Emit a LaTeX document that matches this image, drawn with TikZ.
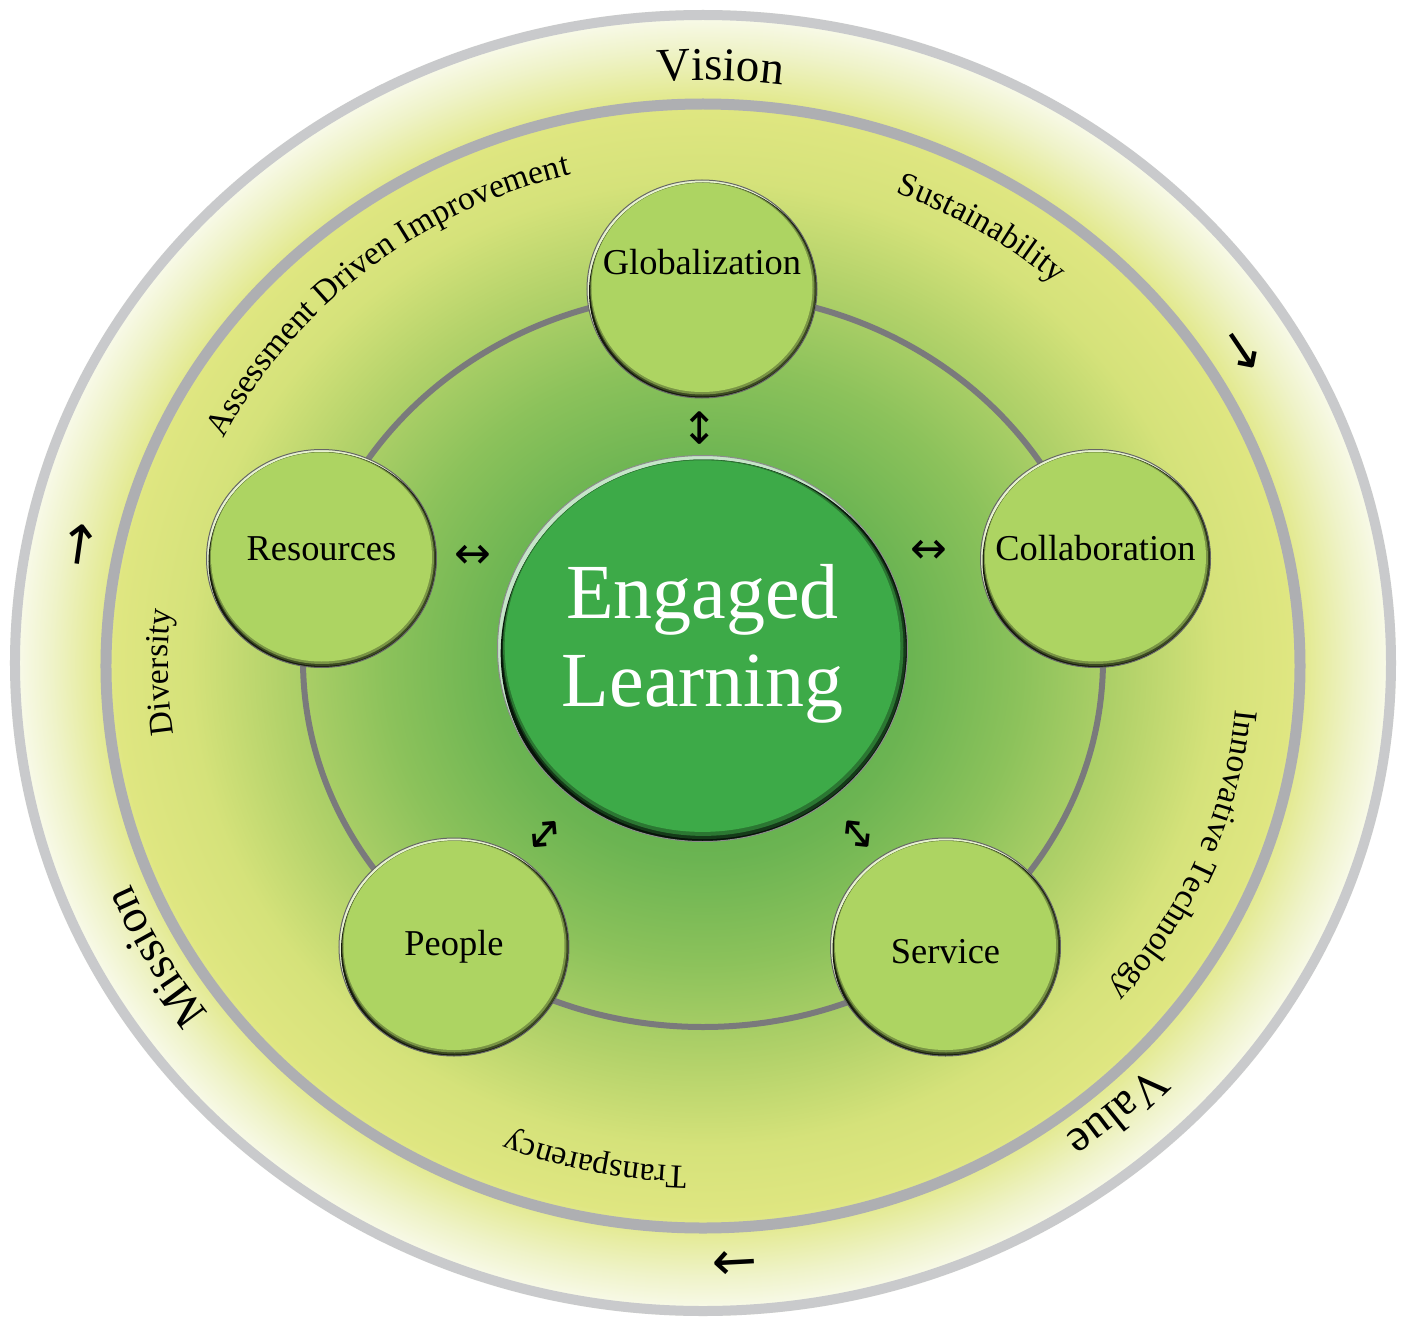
\documentclass[tikz,border=0pt]{standalone}
\usepackage{fontspec}
\setmainfont{Liberation Serif}
\newfontfamily\arrowfont{DejaVu Sans}
\usetikzlibrary{positioning,shapes.geometric,decorations.text}

\definecolor{ringout}{HTML}{C9CACC}
\definecolor{ringmid}{HTML}{AEAFB2}
\definecolor{ringin}{HTML}{7A7A7C}
\definecolor{ballgreen}{HTML}{ADD462}
\definecolor{coregreen}{HTML}{3DAA48}
\definecolor{sh0}{HTML}{4DA744}
\definecolor{sh1}{HTML}{6BB452}
\definecolor{sh2}{HTML}{8CC25B}
\definecolor{sh3}{HTML}{B3D26A}
\definecolor{sh4}{HTML}{D5E27A}
\definecolor{sh5}{HTML}{DFE681}
\definecolor{sh6}{HTML}{E5EB9A}
\definecolor{sh7}{HTML}{EFF3C9}
\definecolor{sh8}{HTML}{FAFBF0}

\pgfdeclareradialshading{discshade}{\pgfpointorigin}{%
  color(0bp)=(sh0); color(7.5bp)=(sh1); color(11.5bp)=(sh2); color(15.3bp)=(sh3);
  color(18.5bp)=(sh4); color(21.2bp)=(sh5); color(22bp)=(sh6); color(23.5bp)=(sh7);
  color(25bp)=(sh8); color(50bp)=(sh8)}

\newcommand{\bandbig}{\fontsize{23.5}{23.5}\selectfont}
\newcommand{\bandsmall}{\fontsize{16.8}{16.8}\selectfont}
% rim of a ball: x radius, y radius, colour, rim width
\newcommand{\bevel}[4]{%
  \pgfmathsetmacro\rimx{#1-2*#4}\pgfmathsetmacro\rimy{#2-2*#4}%
  \pgfmathsetmacro\midx{#1-3*#4}\pgfmathsetmacro\midy{#2-3*#4}%
  \pgfmathsetmacro\topx{#1-4.5*#4}\pgfmathsetmacro\topy{#2-4.5*#4}%
  \fill[#3!30!white] (path picture bounding box.south west) rectangle (path picture bounding box.north east);
  \fill[black!88!#3] ([shift={(2*#4,-3*#4)}]path picture bounding box.center) ellipse [x radius=#1, y radius=#2];
  \fill[#3!35!black] ([shift={(#4,-0.5*#4)}]path picture bounding box.center) ellipse [x radius=\rimx, y radius=\rimy];
  \fill[#3!70!black] ([shift={(0.5*#4,0.5*#4)}]path picture bounding box.center) ellipse [x radius=\midx, y radius=\midy];
  \fill[#3] ([shift={(0,1.5*#4)}]path picture bounding box.center) ellipse [x radius=\topx, y radius=\topy];
}

\tikzset{
  ball/.style     = {ellipse, inner sep=0pt, minimum width=115pt, minimum height=109pt,
                     fill=ballgreen, draw=black!60, line width=.5pt,
                     path picture={\bevel{115}{109}{ballgreen}{1}}},
  core/.style     = {ellipse, inner sep=0pt, minimum width=205pt, minimum height=193pt,
                     fill=coregreen, draw=black!45, line width=.5pt,
                     path picture={\bevel{205}{193}{coregreen}{1.6}}},
  coretext/.style = {align=center, text=white, font=\fontsize{39}{44}\selectfont},
  balltext/.style = {font=\fontsize{18.2}{20}\selectfont},
  dbl/.style      = {inner sep=0pt, font=\arrowfont\fontsize{22}{22}\selectfont},
  flow/.style     = {inner sep=0pt, font=\arrowfont\fontsize{27}{27}\selectfont},
  bandtext/.style = {decorate, decoration={text along path, text align=center, text={#1}}}
}

\begin{document}
\begin{tikzpicture}[x=0.5pt, y=0.5pt]
\useasboundingbox (-703,-655) rectangle (705,663);
\fill[white] (-703,-655) rectangle (705,663);

\shade[shading=discshade] (0,0) ellipse [x radius=693, y radius=653];
\draw[ringout, line width=5pt] (0,0) ellipse [x radius=688, y radius=648];
\draw[ringmid, line width=5.5pt] (0,-3) ellipse [x radius=597, y radius=562];
\draw[ringin, line width=3pt] (0,3) ellipse [x radius=400, y radius=367];

% outer band
\path[bandtext={|\bandbig|Vision}] (118.4:619 and 583) arc [start angle=118.4, end angle=58.4, x radius=619, y radius=583];
\path[bandtext={|\bandbig|Value}] (-18.5:619 and 583) arc [start angle=-18.5, end angle=-78.5, x radius=619, y radius=583];
\path[bandtext={|\bandbig|Mission}] (239.3:619 and 583) arc [start angle=239.3, end angle=179.3, x radius=619, y radius=583];
\node[flow, rotate=82] (upflow) at (-620,118) {→};
\node[flow, rotate=-56] (rightflow) at (537,311) {→};
\node[flow, rotate=-177] (downflow) at (32,-597) {→};

% inner band
\path[bandtext={|\bandsmall|Assessment Driven Improvement}] (174.5:535 and 504) arc [start angle=174.5, end angle=84.5, x radius=535, y radius=504];
\path[bandtext={|\bandsmall|Sustainability}] (88.5:535 and 504) arc [start angle=88.5, end angle=28.5, x radius=535, y radius=504];
\path[bandtext={|\bandsmall|Innovative Technology}] (17.5:535 and 504) arc [start angle=17.5, end angle=-62.5, x radius=535, y radius=504];
\path[bandtext={|\bandsmall|Transparency}] (288.3:535 and 504) arc [start angle=288.3, end angle=228.3, x radius=535, y radius=504];
\path[bandtext={|\bandsmall|Diversity}] (211:535 and 504) arc [start angle=211, end angle=151, x radius=535, y radius=504];

\node[core] (learn) at (-0.5,14.5) {};
\node[coretext] (learntext) at ([yshift=2.5pt]learn.center) {Engaged\\Learning};

\node[ball] (glob) at (-1,374) {};
\node[ball] (res) at (-381.5,104.5) {};
\node[ball] (coll) at (392.5,104.5) {};
\node[ball] (people) at (-249,-284) {};
\node[ball] (serv) at (242.5,-284) {};
\node[balltext] (globtext) at ([yshift=13.5pt]glob.center) {Globalization};
\node[balltext] (restext) at ([yshift=5pt]res.center) {Resources};
\node[balltext] (colltext) at ([yshift=5pt]coll.center) {Collaboration};
\node[balltext] (peopletext) at (people.center) {People};
\node[balltext] (servtext) at ([yshift=-2.5pt]serv.center) {Service};

\node[dbl, rotate=90] (globarrow) at (-1,235) {↔};
\node[dbl] (resarrow) at (-230,106) {↔};
\node[dbl] (collarrow) at (226,111) {↔};
\node[dbl, rotate=50] (peoplearrow) at (-157,-173) {↔};
\node[dbl, rotate=-51] (servarrow) at (153,-173) {↔};
\end{tikzpicture}
\end{document}
